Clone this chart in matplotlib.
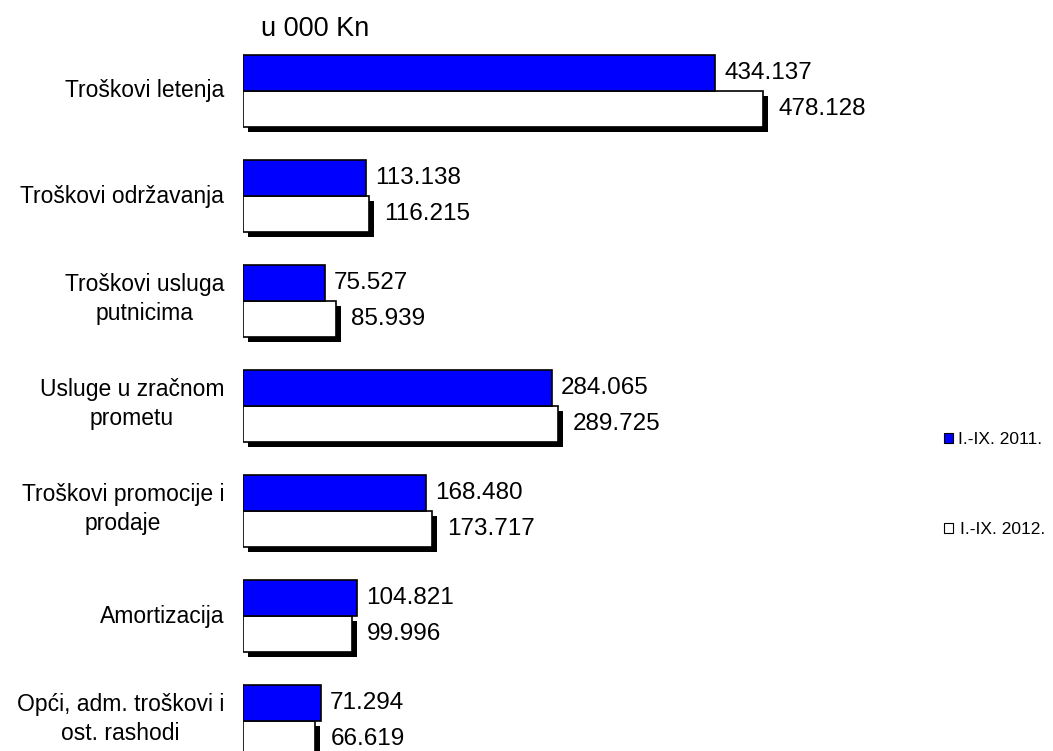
import matplotlib
matplotlib.use("Agg")
import matplotlib.pyplot as plt
from matplotlib.patches import Rectangle

categories = ["Troškovi letenja", "Troškovi održavanja", "Troškovi usluga\nputnicima",
              "Usluge u zračnom\nprometu", "Troškovi promocije i\nprodaje", "Amortizacija",
              "Opći, adm. troškovi i\nost. rashodi"]
values_2011 = [434.137, 113.138, 75.527, 284.065, 168.480, 104.821, 71.294]
values_2012 = [478.128, 116.215, 85.939, 289.725, 173.717, 99.996, 66.619]
labels_2011 = ["434.137", "113.138", "75.527", "284.065", "168.480", "104.821", "71.294"]
labels_2012 = ["478.128", "116.215", "85.939", "289.725", "173.717", "99.996", "66.619"]
series_names = ["I.-IX. 2011.", "I.-IX. 2012."]
title = "u 000 Kn"

W, H = 1053, 751
fig = plt.figure(figsize=(W / 100, H / 100), dpi=100)
left_px, right_px = 243, 1053
ax = fig.add_axes([left_px / W, 0, (right_px - left_px) / W, 1])
px_per_unit = 1.0876
ax.set_xlim(0, (right_px - left_px) / px_per_unit)
group_px = 105.0
ax.set_ylim((H - 91) / group_px, -91 / group_px)
ax.axis("off")

FONT = "Liberation Sans"
bh = 36 / group_px
dx = 5 / px_per_unit
dy = 5 / group_px
blue = "#0000ff"
for i in range(len(categories)):
    v1, v2 = values_2011[i], values_2012[i]
    # shadow for white bar
    ax.add_patch(Rectangle((dx, i + dy), v2, bh, facecolor="black", edgecolor="none", zorder=1))
    ax.barh(i + bh / 2, v2, height=bh, color="white", edgecolor="black", linewidth=1.2, zorder=2)
    ax.barh(i - bh / 2, v1, height=bh, color=blue, edgecolor="black", linewidth=1.2, zorder=3)
    ax.text(v1 + 9 / px_per_unit, i - bh / 2, labels_2011[i], va="center", ha="left", fontsize=17.5,
            family=FONT)
    ax.text(v2 + 15 / px_per_unit, i + bh / 2, labels_2012[i], va="center", ha="left", fontsize=17.5,
            family=FONT)
    yoff = 89 if "\n" in categories[i] else 91
    fig.text(224 / W, 1 - (yoff + group_px * i) / H, categories[i], ha="right", va="center",
             fontsize=16.5, family=FONT, multialignment="center", linespacing=1.3)

fig.text(261 / W, 1 - 29 / H, title, ha="left", va="center", fontsize=19.5, family=FONT)

# legend
for (y_px, x_txt, fc, name) in [(438, 958, blue, series_names[0]), (528, 960, "white", series_names[1])]:
    fig.patches.append(Rectangle((944 / W, 1 - (y_px + 5) / H), 9 / W, 10 / H, facecolor=fc,
                                 edgecolor="black", linewidth=0.8, transform=fig.transFigure, figure=fig))
    fig.text(x_txt / W, 1 - (y_px + 1) / H, name, ha="left", va="center", fontsize=12.5, family=FONT)

fig.savefig("out.png", dpi=100)
